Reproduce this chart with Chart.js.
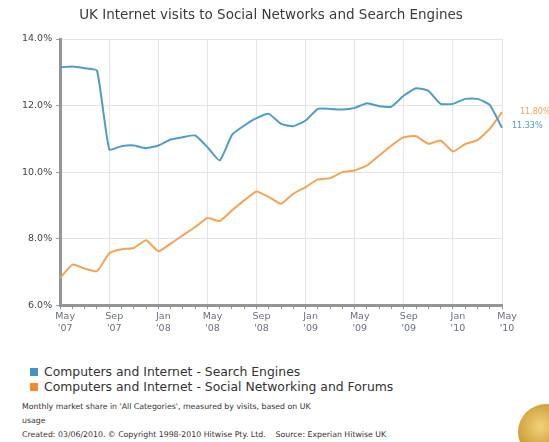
<!DOCTYPE html>
<html>
<head>
<meta charset="utf-8">
<script src="https://cdn.jsdelivr.net/npm/chart.js@4.4.1/dist/chart.umd.min.js"></script>
<style>
  body { margin: 0; background: #fff; font-family: "DejaVu Sans", Verdana, sans-serif; }
  #wrap { position: relative; width: 549px; height: 442px; overflow: hidden; }
  #box { position: absolute; left: 0; top: 0; width: 549px; height: 336px; }
  #title { position: absolute; left: 0; top: 6px; width: 542px; text-align: center; font-size: 13.5px; color: #3a3a3a; }
  .legend { position: absolute; left: 30px; font-size: 12.4px; color: #333; }
  .legend span { display: inline-block; width: 8px; height: 8px; margin-right: 6px; vertical-align: 0px; }
  .note { position: absolute; left: 22px; font-size: 7.8px; color: #333; }
  #logo { position: absolute; left: 518px; top: 404px; width: 56px; height: 56px; border-radius: 50%;
          background: radial-gradient(circle at 40% 40%, #f3d27a, #c7962f 60%, #8a6418); }
</style>
</head>
<body>
<div id="wrap">
  <div id="box"><canvas id="myChart"></canvas></div>
  <div id="title">UK Internet visits to Social Networks and Search Engines</div>
  <div class="legend" style="top:364px"><span style="background:#3f94c4"></span>Computers and Internet - Search Engines</div>
  <div class="legend" style="top:379px"><span style="background:#f08c2c"></span>Computers and Internet - Social Networking and Forums</div>
  <div class="note" style="top:402px">Monthly market share in 'All Categories', measured by visits, based on UK</div>
  <div class="note" style="top:416px">usage</div>
  <div class="note" style="top:430px">Created: 03/06/2010. &copy; Copyright 1998-2010 Hitwise Pty. Ltd. &nbsp;&nbsp; Source: Experian Hitwise UK</div>
  <div id="logo"></div>
</div>
<script>
// Data
const months = [
    "May '07", "Jun '07", "Jul '07", "Aug '07", "Sep '07", "Oct '07", "Nov '07", "Dec '07",
    "Jan '08", "Feb '08", "Mar '08", "Apr '08", "May '08", "Jun '08", "Jul '08", "Aug '08",
    "Sep '08", "Oct '08", "Nov '08", "Dec '08", "Jan '09", "Feb '09", "Mar '09", "Apr '09",
    "May '09", "Jun '09", "Jul '09", "Aug '09", "Sep '09", "Oct '09", "Nov '09", "Dec '09",
    "Jan '10", "Feb '10", "Mar '10", "Apr '10", "May '10"
];

const searchEngines = [
    13.15, 13.17, 13.12, 13.05, 10.68, 10.78, 10.80, 10.72,
    10.80, 10.98, 11.05, 11.10, 10.75, 10.35, 11.12, 11.40,
    11.62, 11.75, 11.45, 11.38, 11.55, 11.90, 11.90, 11.88,
    11.93, 12.07, 11.98, 11.97, 12.30, 12.52, 12.44, 12.05,
    12.05, 12.20, 12.20, 12.02, 11.33
];

const socialNetworks = [
    6.82, 7.22, 7.10, 7.02, 7.56, 7.68, 7.72, 7.95,
    7.62, 7.85, 8.10, 8.35, 8.62, 8.53, 8.85, 9.15,
    9.42, 9.25, 9.05, 9.35, 9.55, 9.78, 9.82, 10.00,
    10.05, 10.20, 10.50, 10.80, 11.05, 11.08, 10.85, 10.95,
    10.62, 10.84, 10.96, 11.30, 11.80
];

const endLabels = ['11.33%', '11.80%'];

const BLUE = '#4f9cc6';
const ORANGE = '#f3a455';

// Draws the last value of each series to the right of the plot
const endLabelPlugin = {
    id: 'endLabels',
    afterDatasetsDraw(chart) {
        const ctx = chart.ctx;
        ctx.save();
        ctx.font = '8px "DejaVu Sans"';
        ctx.textBaseline = 'middle';
        chart.data.datasets.forEach((ds, i) => {
            const meta = chart.getDatasetMeta(i);
            const pt = meta.data[meta.data.length - 1];
            ctx.fillStyle = ds.borderColor;
            const dx = i === 0 ? 10 : 18;
            ctx.fillText(endLabels[i], chart.chartArea.right + dx, pt.y + (i === 0 ? -2 : 0));
        });
        ctx.restore();
    }
};

const data = {
    labels: months,
    datasets: [{
            label: 'Computers and Internet - Search Engines',
            data: searchEngines,
            borderColor: BLUE,
            borderWidth: 2,
            pointRadius: 0,
            tension: 0.15,
        },
        {
            label: 'Computers and Internet - Social Networking and Forums',
            data: socialNetworks,
            borderColor: ORANGE,
            borderWidth: 2,
            pointRadius: 0,
            tension: 0.15,
        }
    ]
};

const config = {
    type: 'line',
    data: data,
    plugins: [endLabelPlugin],
    options: {
        responsive: true,
        maintainAspectRatio: false,
        animation: false,
        layout: {
            padding: { left: 18, right: 47, top: 39, bottom: 0 }
        },
        plugins: {
            legend: { display: false },
            tooltip: { enabled: false },
            title: { display: false }
        },
        scales: {
            x: {
                border: { color: '#959595', width: 3 },
                grid: {
                    color: (c) => c.index % 4 === 0 ? '#e4e4e4' : 'rgba(0,0,0,0)',
                    tickColor: '#959595',
                    tickLength: 4
                },
                ticks: {
                    autoSkip: false,
                    maxRotation: 0,
                    color: '#6a6f80',
                    font: { family: 'DejaVu Sans', size: 9.5 },
                    padding: 2,
                    labelOffset: 5,
                    callback: function(value, index) {
                        if (index % 4 !== 0) return '';
                        return months[index].split(' ');
                    }
                }
            },
            y: {
                min: 6,
                max: 14,
                border: { color: '#959595', width: 3 },
                grid: { color: '#e4e4e4', tickColor: '#959595', tickLength: 4 },
                ticks: {
                    stepSize: 2,
                    color: '#444',
                    font: { family: 'DejaVu Sans', size: 9.5 },
                    padding: 4,
                    callback: (v) => v.toFixed(1) + '%'
                }
            }
        }
    }
};

const myChart = new Chart(
    document.getElementById('myChart'),
    config
);
</script>
</body>
</html>
